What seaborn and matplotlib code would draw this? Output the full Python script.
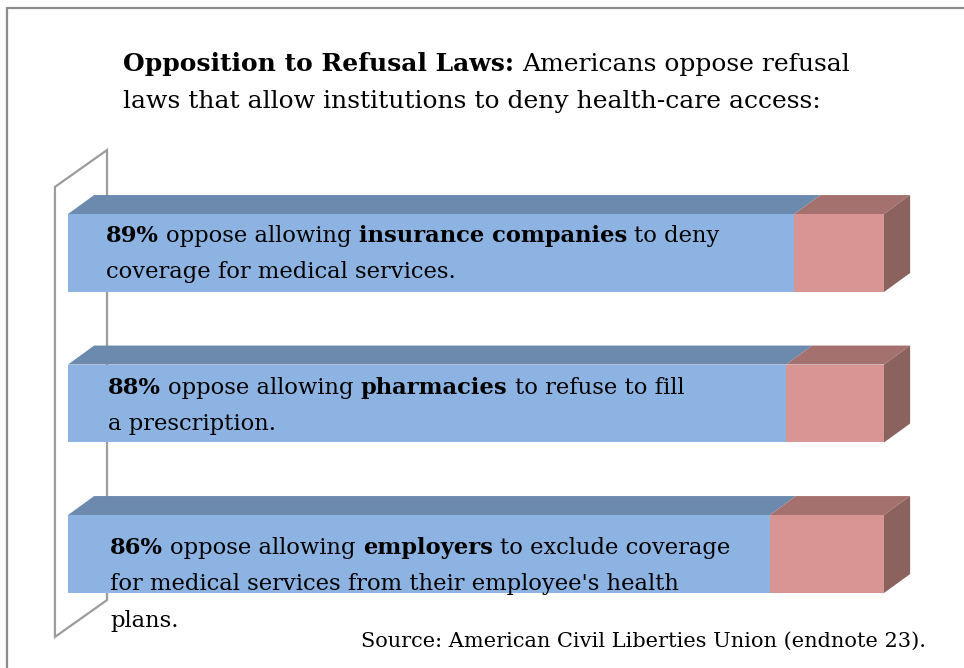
import numpy as np
import pandas as pd
import seaborn as sns
import matplotlib.pyplot as plt
from matplotlib.patches import Polygon
from matplotlib.lines import Line2D

# ---------------- data ----------------
categories = ["insurance companies", "pharmacies", "employers"]
oppose = [89, 88, 86]
total = [100, 100, 100]

title_lines = [
    [("Opposition to Refusal Laws:", True), ("Americans oppose refusal", False)],
    [("laws that allow institutions to deny health-care access:", False)],
]
bar_labels = [
    [[("89%", True), ("oppose allowing", False), ("insurance companies", True), ("to deny", False)],
     [("coverage for medical services.", False)]],
    [[("88%", True), ("oppose allowing", False), ("pharmacies", True), ("to refuse to fill", False)],
     [("a prescription.", False)]],
    [[("86%", True), ("oppose allowing", False), ("employers", True), ("to exclude coverage", False)],
     [("for medical services from their employee's health", False)],
     [("plans.", False)]],
]
source = "Source: American Civil Liberties Union (endnote 23)."

# ---------------- style ----------------
W, H = 964, 668
BLUE_FRONT = "#8DB3E2"
BLUE_TOP = "#6C89AE"
RED_FRONT = "#D99594"
RED_TOP = "#A5716E"
RED_SIDE = "#8C625F"
WALL = "#9C9C9C"
FONT = ["DejaVu Serif"]
BAR_W = 0.518
DX, DY = 3.2, 0.126  # 3-D depth in data units

sns.set_theme(style="white")
plt.rcParams["font.family"] = FONT

fig = plt.figure(figsize=(W / 100, H / 100), dpi=100)
ax = fig.add_axes([68 / W, 1 - 629.25 / H, 816 / W, (629.25 - 177.75) / H])

df = pd.DataFrame({"category": categories, "oppose": oppose, "total": total})
sns.barplot(data=df, y="category", x="total", color=RED_FRONT, saturation=1,
            width=BAR_W, linewidth=0, ax=ax, orient="h", zorder=3)
sns.barplot(data=df, y="category", x="oppose", color=BLUE_FRONT, saturation=1,
            width=BAR_W, linewidth=0, ax=ax, orient="h", zorder=3)
ax.set_xlim(0, 100)
ax.set_ylim(2.5, -0.5)
ax.axis("off")

# back wall (drawn behind bars)
wall = Polygon([(-1.6, -0.439), (4.78, -0.684), (4.78, 2.306), (-1.6, 2.551)],
               closed=True, fill=False, edgecolor=WALL, lw=1.6, clip_on=False, zorder=1)
ax.add_patch(wall)

for i, v in enumerate(oppose):
    top = i - BAR_W / 2
    bot = i + BAR_W / 2
    faces = [
        ([(0, top), (v, top), (v + DX, top - DY), (DX, top - DY)], BLUE_TOP),
        ([(v, top), (total[i], top), (total[i] + DX, top - DY), (v + DX, top - DY)], RED_TOP),
        ([(total[i], top), (total[i] + DX, top - DY), (total[i] + DX, bot - DY), (total[i], bot)], RED_SIDE),
    ]
    for pts, c in faces:
        ax.add_patch(Polygon(pts, closed=True, facecolor=c, edgecolor="none",
                             clip_on=False, zorder=2))

# frame lines
fig.add_artist(Line2D([7 / W, 1], [1 - 8 / H, 1 - 8 / H], color="#8C8C8C", lw=1.6))
fig.add_artist(Line2D([7 / W, 7 / W], [1 - 8 / H, 0], color="#8C8C8C", lw=1.6))

renderer = fig.canvas.get_renderer()


def tw(s, size, bold):
    t = fig.text(0, 0, s, fontsize=size, fontweight="bold" if bold else "normal")
    w = t.get_window_extent(renderer).width
    t.remove()
    return w


def draw_line(x, y, pieces, size):
    cx = x
    for k, (txt, bold) in enumerate(pieces):
        if k > 0:
            cx += tw("a a", size, False) - tw("aa", size, False)
        t = fig.text(cx / W, 1 - y / H, txt, fontsize=size,
                     fontweight="bold" if bold else "normal",
                     ha="left", va="baseline", color="black", zorder=10)
        cx += t.get_window_extent(renderer).width
    return cx


TITLE_SIZE = 18
BAR_SIZE = 16.3
SRC_SIZE = 15

draw_line(123, 71, title_lines[0], TITLE_SIZE)
draw_line(123, 108, title_lines[1], TITLE_SIZE)

bar_text_pos = [(106, [242, 278]), (108, [394, 430]), (110, [554, 590, 627])]
for (x0, ys), lines in zip(bar_text_pos, bar_labels):
    for y, pieces in zip(ys, lines):
        draw_line(x0, y, pieces, BAR_SIZE)

draw_line(361, 647, [(source, False)], SRC_SIZE)

fig.savefig("out.png", dpi=100)
